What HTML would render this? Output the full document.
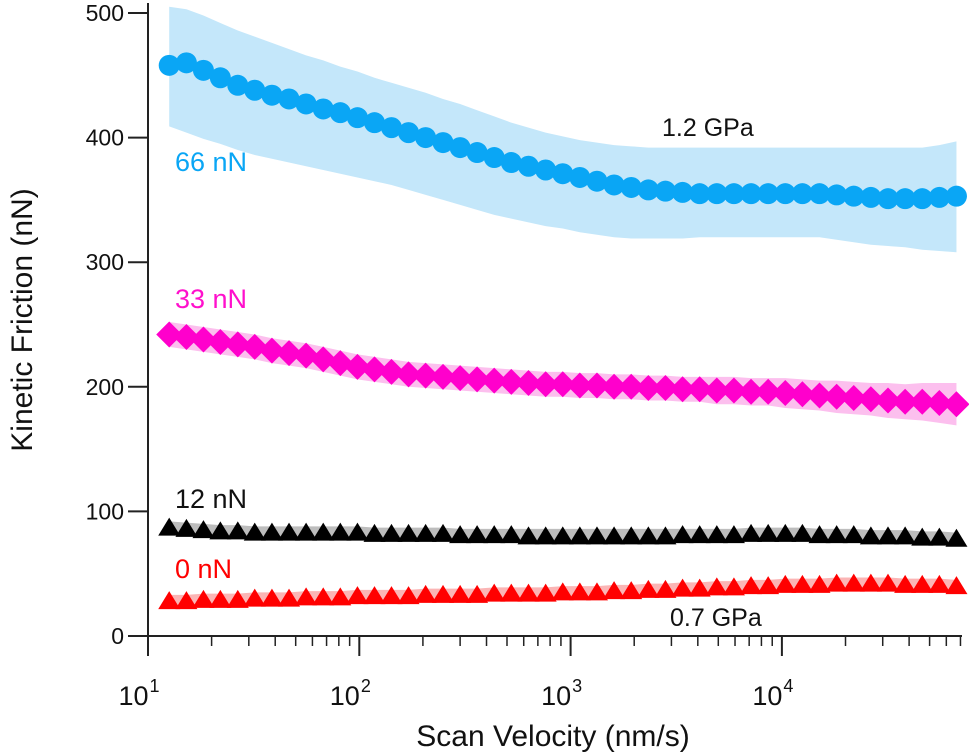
<!DOCTYPE html>
<html><head><meta charset="utf-8"><style>
html,body{margin:0;padding:0;background:#fff;}
svg{display:block;font-family:"Liberation Sans",Arial,sans-serif;}
</style></head><body>
<svg id="chart" width="969" height="756" viewBox="0 0 969 756" xmlns="http://www.w3.org/2000/svg">
<g id="bands"></g>
<g id="marks"></g>
<g id="axes"></g>
<text x="175" y="171" font-size="27" fill="#0aa6f5">66 nN</text>
<text x="175" y="308" font-size="27" fill="#ff10cc">33 nN</text>
<text x="175" y="508" font-size="27" fill="#111">12 nN</text>
<text x="175" y="578" font-size="27" fill="#ff0000">0 nN</text>
<text x="662" y="136" font-size="25" fill="#111">1.2 GPa</text>
<text x="670" y="626" font-size="25" fill="#111">0.7 GPa</text>
<text transform="translate(32,320) rotate(-90)" text-anchor="middle" font-size="30" fill="#111">Kinetic Friction (nN)</text>
<text x="553" y="746" text-anchor="middle" font-size="30" fill="#111">Scan Velocity (nm/s)</text>
</svg>
<script>
const velocities=[12.6,15.2,18.3,22,26.6,32,38.6,46.5,56,67.5,81.3,98,118,142,171,206,249,300,361,435,524,632,762,918,1106,1333,1606,1936,2333,2811,3388,4082,4920,5929,7145,8610,10376,12504,15068,18158,21882,26370,31778,38295,46149,55613,67000];
const blueValues=[458,460,454,448,442,438,434,431,427,423,420,416,412,408,404,400,396,392,388,384,380,377,374,371,368,365,362,360,358,357,356,355,355,355,355,355,355,355,355,354,353,352,351,351,351,352,353];
const blueUpper=[505,503,498,492,486,481,476,471,466,462,457,453,448,444,440,436,431,427,422,417,412,408,404,401,398,396,394,393,392,392,392,392,392,392,392,392,392,392,392,392,392,392,392,392,392,394,397];
const blueLower=[409,404,399,395,390,386,383,380,377,374,371,368,365,362,358,354,350,346,342,338,335,332,329,327,324,322,320,319,319,319,319,320,320,320,320,320,320,320,320,318,316,314,313,312,310,309,308];
const magentaValues=[242,240,238,236,234,232,229,227,225,222,219,216,214,212,210,209,208,207,206,205,204,203,202,202,201,201,200,200,199,199,198,198,197,197,196,196,195,194,193,192,191,190,189,188,188,187,186];
const magentaErr=[10,10,10,10,10,10,10,10,10,10,10,10,10,10,10,10,10,10,10,10,10,10,10,10,10,10,10,10,10,10,10,10,11,11,11,11,12,12,12,13,13,13,14,14,15,16,17];
const blackValues=[87,86,85,84,84,83,83,83,83,83,83,83,82,82,82,82,82,81,81,81,81,80,80,80,80,80,80,80,80,80,81,81,81,81,82,82,82,82,81,81,81,80,80,80,79,79,78];
const blackErr=[5,5,5,5,5,5,5,5,5,5,5,5,5,5,5,5,5,5,5,5,5,6,6,6,6,6,6,6,6,6,5,5,5,5,5,5,5,5,5,5,5,5,5,5,5,5,5];
const redValues=[28,28,29,29,29,30,30,30,31,31,31,32,32,32,32,33,33,33,33,34,34,34,34,35,35,35,36,36,37,37,38,38,39,39,40,40,41,41,41,42,42,42,42,41,41,41,40];
const redErr=[5,5,5,5,5,5,5,5,5,5,5,5,5,5,5,5,5,5,5,5,5,5,5,5,5,5,5,5,5,5,5,5,5,5,5,5,5,5,5,5,5,5,5,5,5,5,5];
const yTicks=[0,100,200,300,400,500];
const xDecades=[1,2,3,4];

const NS="http://www.w3.org/2000/svg";
function xs(v){return 148+(Math.log10(v)-1)*211.3;}
function ys(v){return 636-v*1.246;}
function mk(tag,attrs,parent){const e=document.createElementNS(NS,tag);for(const k in attrs)e.setAttribute(k,attrs[k]);parent.appendChild(e);return e;}
const bands=document.getElementById('bands'),marks=document.getElementById('marks'),axes=document.getElementById('axes');

function bandUL(upper,lower,fill,name){
  let pts=velocities.map((v,i)=>xs(v)+','+ys(upper[i]));
  for(let i=velocities.length-1;i>=0;i--)pts.push(xs(velocities[i])+','+ys(lower[i]));
  const p=mk('polygon',{points:pts.join(' '),fill:fill},bands);
  
  
}
function band(vals,err,fill,name){
  bandUL(vals.map((v,i)=>v+err[i]),vals.map((v,i)=>v-err[i]),fill,name);
}
bandUL(blueUpper,blueLower,'#c4e7fa','band-66nN');
band(magentaValues,magentaErr,'#fcbfee','band-33nN');
band(blackValues,blackErr,'#bdbdbd','band-12nN');
band(redValues,redErr,'#fbb5b5','band-0nN');

velocities.forEach((v,i)=>{
  const x=xs(v);
  let c=mk('circle',{cx:x,cy:ys(blueValues[i]),r:10.5,fill:'#0aa6f5'},marks);
  
  
  let y=ys(magentaValues[i]);
  let d=mk('polygon',{points:`${x-13},${y} ${x},${y-13} ${x+13},${y} ${x},${y+13}`,fill:'#ff00cc'},marks);
  
  
  y=ys(blackValues[i]);
  let t=mk('polygon',{points:`${x-11},${y+8} ${x},${y-10} ${x+11},${y+8}`,fill:'#000'},marks);
  
  
  y=ys(redValues[i]);
  let r=mk('polygon',{points:`${x-11},${y+8} ${x},${y-10} ${x+11},${y+8}`,fill:'#ff0000'},marks);
  
  
});

let l=mk('line',{x1:148,y1:3,x2:148,y2:655,stroke:'#222','stroke-width':2},axes);


l=mk('line',{x1:128,y1:636,x2:962,y2:636,stroke:'#222','stroke-width':2},axes);


yTicks.forEach(t=>{
  const y=ys(t);
  const tk=mk('line',{x1:128,y1:y,x2:148,y2:y,stroke:'#222','stroke-width':2},axes);
  
  
  const tx=mk('text',{x:124,y:y+8,'text-anchor':'end','font-size':23,fill:'#111'},axes);
  tx.textContent=t;
  
  
});
xDecades.forEach(d=>{
  const x=xs(Math.pow(10,d));
  const tk=mk('line',{x1:x,y1:636,x2:x,y2:656,stroke:'#222','stroke-width':2},axes);
  
  
  const tx=mk('text',{x:x-9,y:705,'text-anchor':'middle','font-size':27,fill:'#111'},axes);
  tx.textContent='10';
  
  
  const sp=mk('tspan',{dx:1,dy:-13,'font-size':18},tx);
  sp.textContent=d;
  for(let m=2;m<=9;m++){
    const v=m*Math.pow(10,d);
    if(xs(v)>962)break;
    const mt=mk('line',{x1:xs(v),y1:636,x2:xs(v),y2:646,stroke:'#222','stroke-width':1.5},axes);
    
    
  }
});
</script>
</body></html>
